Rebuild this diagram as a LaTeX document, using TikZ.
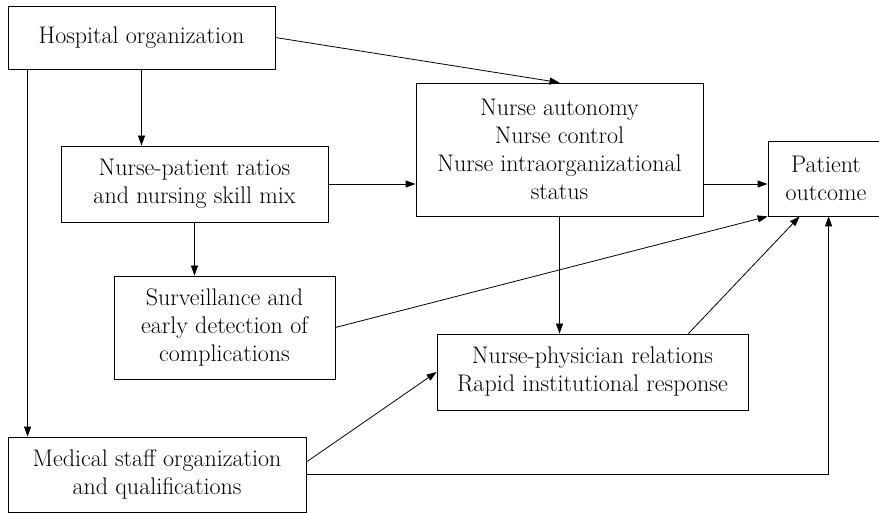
\documentclass[tikz,border=0pt]{standalone}
\usetikzlibrary{arrows.meta,calc}
\begin{document}
\begin{tikzpicture}[x=1pt,y=-1pt,
  box/.style={draw, line width=0.8pt, align=center, inner sep=0pt,
    font=\fontsize{24}{28}\selectfont},
  arr/.style={line width=0.8pt, -{Triangle[length=10pt,width=7pt]}},
  ln/.style={line width=0.8pt}]
\useasboundingbox (0,0) rectangle (879,513);
\node[box, minimum width=267pt, minimum height=63pt] (H) at (141.5,37.5) {Hospital organization};
\node[box, minimum width=267pt, minimum height=76pt] (NP) at (194.5,184) {Nurse-patient ratios\\and nursing skill mix};
\node[box, minimum width=287pt, minimum height=133pt] (NA) at (559.5,149.5) {Nurse autonomy\\Nurse control\\Nurse intraorganizational\\status};
\node[box, minimum width=116pt, minimum height=75pt, text width=110pt] (PO) at (826,178.5) {Patient\\outcome};
\node[box, minimum width=221pt, minimum height=103pt] (SV) at (224.5,327.5) {Surveillance and\\early detection of\\complications};
\node[box, minimum width=311pt, minimum height=76pt] (NPR) at (592.5,372) {Nurse-physician relations\\Rapid institutional response};
\node[box, minimum width=298pt, minimum height=75pt] (MS) at (157,474.5) {Medical staff organization\\and qualifications};

\draw[arr] (H.east) -- (NA.north);
\draw[arr] (H.south) -- (H.south |- NP.north);
\coordinate (HL) at ($(H.south west)+(20,0)$);
\draw[arr] (HL) -- (HL |- MS.north);
\draw[arr] (NP.east) -- (NP.east -| NA.west);
\draw[arr] (NP.south) -- (NP.south |- SV.north);
\draw[arr] (NA.east |- NP.east) -- (PO.west |- NP.east);
\draw[arr] (NA.south) -- (NA.south |- NPR.north);
\draw[arr] (SV.east) -- (PO.south west);
\coordinate (NPRs) at ($(NPR.north east)+(-60,0)$);
\coordinate (POb) at ($(PO.south west)+(32,0)$);
\draw[arr] (NPRs) -- (POb);
\coordinate (MSs) at ($(MS.east)+(0,-12.5)$);
\draw[arr] (MSs) -- (NPR.west);
\coordinate (POc) at ($(PO.south west)+(61,0)$);
\draw[arr] (MS.east) -| (POc);
\end{tikzpicture}
\end{document}
